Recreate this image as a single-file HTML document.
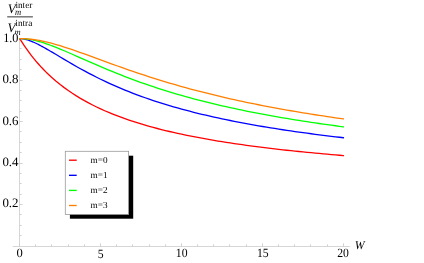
<!DOCTYPE html>
<html><head><meta charset="utf-8"><title>plot</title>
<style>
html,body{margin:0;padding:0;background:#fff;}
body{width:424px;height:263px;overflow:hidden;font-family:"Liberation Serif",serif;}
svg{display:block;will-change:transform;}
text{font-family:"Liberation Serif",serif;fill:#000;text-rendering:geometricPrecision;}
.it{font-style:italic;}
</style></head><body>
<svg width="424" height="263" viewBox="0 0 424 263">
<rect width="424" height="263" fill="#fff"/>
<g stroke="#d6d6d6" stroke-width="1" fill="none">
<path d="M12.7,246.5H349.8"/>
<path d="M19.5,247.0V38.0"/>
<path stroke="#d0d0d0" d="M19.50,246.5v-3.1 M35.50,246.5v-2.1 M51.50,246.5v-2.1 M68.50,246.5v-2.1 M84.50,246.5v-2.1 M100.50,246.5v-3.1 M116.50,246.5v-2.1 M132.50,246.5v-2.1 M149.50,246.5v-2.1 M165.50,246.5v-2.1 M181.50,246.5v-3.1 M197.50,246.5v-2.1 M213.50,246.5v-2.1 M229.50,246.5v-2.1 M246.50,246.5v-2.1 M262.50,246.5v-3.1 M278.50,246.5v-2.1 M294.50,246.5v-2.1 M310.50,246.5v-2.1 M327.50,246.5v-2.1 M343.50,246.5v-3.1 M19.5,235.50h2.1 M19.5,225.50h2.1 M19.5,214.50h2.1 M19.5,204.50h3.1 M19.5,194.50h2.1 M19.5,183.50h2.1 M19.5,173.50h2.1 M19.5,163.50h3.1 M19.5,152.50h2.1 M19.5,142.50h2.1 M19.5,131.50h2.1 M19.5,121.50h3.1 M19.5,111.50h2.1 M19.5,100.50h2.1 M19.5,90.50h2.1 M19.5,80.50h3.1 M19.5,69.50h2.1 M19.5,59.50h2.1 M19.5,48.50h2.1 M19.5,38.50h3.1"/>
</g>
<text class="it" x="354.7" y="249" font-size="11.8">W</text>
<g>
<text class="it" x="7.7" y="12.8" font-size="13">V</text>
<text x="15.4" y="7.5" font-size="9.3">inter</text>
<text class="it" transform="translate(14.9,14.5) scale(0.92,1)" font-size="9.3">m</text>
<rect x="7.2" y="16.3" width="25.7" height="1.1" fill="#484848"/>
<text class="it" x="7.6" y="31.7" font-size="13">V</text>
<text x="15.3" y="26.3" font-size="9.3">intra</text>
<text class="it" transform="translate(14.6,34.5) scale(0.92,1)" font-size="9.3">m</text>
<rect x="3" y="33.8" width="16" height="8.5" fill="#fff"/>
</g>
<g font-size="12.9">
<g font-size="12.6" text-anchor="middle"><text transform="translate(19.6,256.6)">0</text>
<text transform="translate(100.6,257.7) scale(0.93,1)">5</text>
<text transform="translate(181.7,256.6) scale(0.93,1)">10</text>
<text transform="translate(262.8,257.4) scale(0.93,1)">15</text>
<text transform="translate(343.1,256.6) scale(0.93,1)">20</text></g>
<text transform="translate(18.5,41.6) scale(0.95,1)" text-anchor="end">1.0</text>
<text x="18.5" y="83.1" text-anchor="end">0.8</text>
<text x="18.5" y="124.6" text-anchor="end">0.6</text>
<text x="18.5" y="166.0" text-anchor="end">0.4</text>
<text x="18.5" y="207.3" text-anchor="end">0.2</text>
</g>
<g fill="none" stroke-width="1.3" stroke-linejoin="round" stroke-linecap="round">
<path stroke="#ff0000" d="M19.70,38.60 L21.32,41.19 L22.94,43.69 L24.56,46.12 L26.18,48.46 L27.80,50.73 L29.41,52.93 L31.03,55.06 L32.65,57.13 L34.27,59.13 L35.89,61.07 L37.51,62.96 L39.13,64.79 L40.75,66.57 L42.37,68.30 L43.98,69.98 L45.60,71.62 L47.22,73.21 L48.84,74.76 L50.46,76.27 L52.08,77.73 L56.13,81.24 L60.17,84.53 L64.22,87.63 L68.27,90.54 L72.32,93.29 L76.36,95.89 L80.41,98.35 L84.46,100.68 L88.51,102.89 L92.56,104.99 L96.60,106.99 L100.65,108.90 L104.70,110.72 L108.75,112.45 L112.79,114.11 L116.84,115.70 L120.89,117.22 L124.94,118.68 L128.98,120.08 L133.03,121.42 L137.08,122.72 L141.12,123.96 L145.17,125.16 L149.22,126.31 L153.27,127.42 L157.31,128.50 L161.36,129.53 L165.41,130.53 L169.46,131.50 L173.50,132.44 L177.55,133.34 L181.60,134.22 L185.65,135.07 L189.69,135.90 L193.74,136.70 L197.79,137.47 L201.84,138.23 L205.88,138.96 L209.93,139.67 L213.98,140.36 L218.03,141.04 L222.07,141.69 L226.12,142.33 L230.17,142.95 L234.22,143.56 L238.26,144.15 L242.31,144.72 L246.36,145.28 L250.41,145.83 L254.46,146.37 L258.50,146.89 L262.55,147.40 L266.60,147.90 L270.65,148.38 L274.69,148.86 L278.74,149.32 L282.79,149.78 L286.83,150.23 L290.88,150.66 L294.93,151.09 L298.98,151.51 L303.02,151.92 L307.07,152.32 L311.12,152.71 L315.17,153.10 L319.21,153.47 L323.26,153.84 L327.31,154.21 L331.36,154.56 L335.41,154.91 L339.45,155.26 L343.50,155.59"/>
<path stroke="#0000ff" d="M19.70,38.60 L21.32,38.66 L22.94,38.85 L24.56,39.14 L26.18,39.52 L27.80,39.99 L29.41,40.52 L31.03,41.13 L32.65,41.79 L34.27,42.49 L35.89,43.25 L37.51,44.03 L39.13,44.86 L40.75,45.71 L42.37,46.58 L43.98,47.47 L45.60,48.39 L47.22,49.31 L48.84,50.25 L50.46,51.20 L52.08,52.15 L56.13,54.56 L60.17,56.98 L64.22,59.39 L68.27,61.78 L72.32,64.13 L76.36,66.44 L80.41,68.71 L84.46,70.92 L88.51,73.09 L92.56,75.19 L96.60,77.25 L100.65,79.24 L104.70,81.18 L108.75,83.07 L112.79,84.90 L116.84,86.67 L120.89,88.40 L124.94,90.08 L128.98,91.70 L133.03,93.28 L137.08,94.82 L141.12,96.30 L145.17,97.75 L149.22,99.16 L153.27,100.52 L157.31,101.85 L161.36,103.14 L165.41,104.39 L169.46,105.61 L173.50,106.80 L177.55,107.95 L181.60,109.07 L185.65,110.17 L189.69,111.23 L193.74,112.27 L197.79,113.28 L201.84,114.26 L205.88,115.22 L209.93,116.16 L213.98,117.07 L218.03,117.96 L222.07,118.83 L226.12,119.68 L230.17,120.51 L234.22,121.32 L238.26,122.11 L242.31,122.88 L246.36,123.64 L250.41,124.38 L254.46,125.10 L258.50,125.81 L262.55,126.50 L266.60,127.17 L270.65,127.83 L274.69,128.48 L278.74,129.12 L282.79,129.74 L286.83,130.35 L290.88,130.95 L294.93,131.53 L298.98,132.10 L303.02,132.67 L307.07,133.22 L311.12,133.76 L315.17,134.29 L319.21,134.81 L323.26,135.32 L327.31,135.82 L331.36,136.31 L335.41,136.80 L339.45,137.27 L343.50,137.74"/>
<path stroke="#00ff00" d="M19.70,38.60 L21.32,38.62 L22.94,38.69 L24.56,38.80 L26.18,38.95 L27.80,39.15 L29.41,39.38 L31.03,39.66 L32.65,39.97 L34.27,40.31 L35.89,40.69 L37.51,41.09 L39.13,41.53 L40.75,41.99 L42.37,42.48 L43.98,42.99 L45.60,43.53 L47.22,44.08 L48.84,44.66 L50.46,45.25 L52.08,45.85 L56.13,47.42 L60.17,49.07 L64.22,50.77 L68.27,52.50 L72.32,54.27 L76.36,56.05 L80.41,57.84 L84.46,59.63 L88.51,61.41 L92.56,63.18 L96.60,64.93 L100.65,66.66 L104.70,68.37 L108.75,70.06 L112.79,71.72 L116.84,73.35 L120.89,74.96 L124.94,76.53 L128.98,78.07 L133.03,79.58 L137.08,81.07 L141.12,82.52 L145.17,83.94 L149.22,85.33 L153.27,86.69 L157.31,88.02 L161.36,89.32 L165.41,90.60 L169.46,91.84 L173.50,93.06 L177.55,94.26 L181.60,95.42 L185.65,96.56 L189.69,97.68 L193.74,98.77 L197.79,99.84 L201.84,100.88 L205.88,101.91 L209.93,102.91 L213.98,103.89 L218.03,104.85 L222.07,105.78 L226.12,106.70 L230.17,107.60 L234.22,108.49 L238.26,109.35 L242.31,110.19 L246.36,111.02 L250.41,111.84 L254.46,112.63 L258.50,113.41 L262.55,114.18 L266.60,114.93 L270.65,115.66 L274.69,116.39 L278.74,117.10 L282.79,117.79 L286.83,118.47 L290.88,119.14 L294.93,119.80 L298.98,120.44 L303.02,121.08 L307.07,121.70 L311.12,122.31 L315.17,122.91 L319.21,123.50 L323.26,124.08 L327.31,124.65 L331.36,125.21 L335.41,125.76 L339.45,126.30 L343.50,126.83"/>
<path stroke="#ff8000" d="M19.70,38.60 L21.32,38.61 L22.94,38.65 L24.56,38.72 L26.18,38.81 L27.80,38.93 L29.41,39.08 L31.03,39.25 L32.65,39.44 L34.27,39.66 L35.89,39.90 L37.51,40.17 L39.13,40.45 L40.75,40.76 L42.37,41.09 L43.98,41.43 L45.60,41.79 L47.22,42.17 L48.84,42.57 L50.46,42.98 L52.08,43.41 L56.13,44.54 L60.17,45.74 L64.22,47.01 L68.27,48.33 L72.32,49.70 L76.36,51.10 L80.41,52.53 L84.46,53.98 L88.51,55.45 L92.56,56.93 L96.60,58.41 L100.65,59.89 L104.70,61.37 L108.75,62.84 L112.79,64.30 L116.84,65.75 L120.89,67.19 L124.94,68.61 L128.98,70.02 L133.03,71.41 L137.08,72.78 L141.12,74.14 L145.17,75.47 L149.22,76.78 L153.27,78.07 L157.31,79.34 L161.36,80.59 L165.41,81.82 L169.46,83.03 L173.50,84.22 L177.55,85.38 L181.60,86.53 L185.65,87.66 L189.69,88.76 L193.74,89.85 L197.79,90.91 L201.84,91.96 L205.88,92.98 L209.93,93.99 L213.98,94.98 L218.03,95.95 L222.07,96.91 L226.12,97.85 L230.17,98.77 L234.22,99.67 L238.26,100.56 L242.31,101.43 L246.36,102.28 L250.41,103.12 L254.46,103.95 L258.50,104.76 L262.55,105.55 L266.60,106.34 L270.65,107.10 L274.69,107.86 L278.74,108.60 L282.79,109.33 L286.83,110.05 L290.88,110.75 L294.93,111.45 L298.98,112.13 L303.02,112.80 L307.07,113.46 L311.12,114.10 L315.17,114.74 L319.21,115.37 L323.26,115.98 L327.31,116.59 L331.36,117.19 L335.41,117.78 L339.45,118.35 L343.50,118.92"/>
</g>
<rect x="69.9" y="155.7" width="63.3" height="63.0" fill="#000"/>
<rect x="65.3" y="151.3" width="63.3" height="63.1" fill="#fff" stroke="#9a9a9a" stroke-width="0.8"/>
<g stroke-width="1.35" fill="none">
<path stroke="#ff0000" d="M69,160.2h7.7"/>
<path stroke="#0000ff" d="M69,175.3h7.7"/>
<path stroke="#00ff00" d="M69,190.4h7.7"/>
<path stroke="#ff8000" d="M69,205.5h7.7"/>
</g>
<g font-size="9.2">
<text x="90.6" y="162.9">m=0</text>
<text x="90.6" y="178.0">m=1</text>
<text x="90.6" y="193.1">m=2</text>
<text x="90.6" y="208.2">m=3</text>
</g>
</svg>
</body></html>
